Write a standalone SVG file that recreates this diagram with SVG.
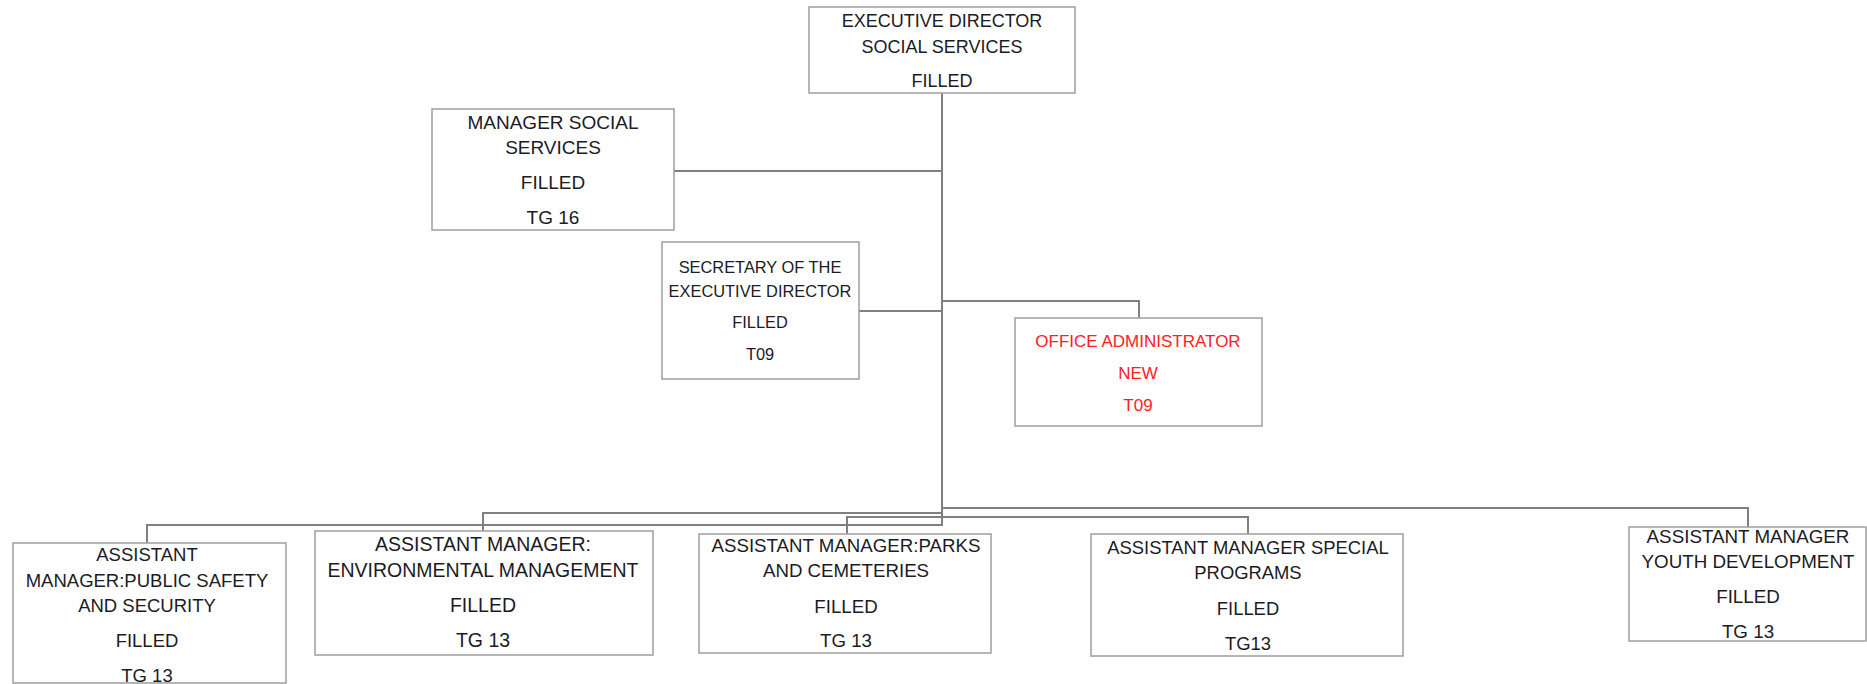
<svg xmlns="http://www.w3.org/2000/svg" width="1867" height="684" viewBox="0 0 1867 684">
  <style>
    .box { fill: #ffffff; stroke: #a3a3a3; stroke-width: 1.6; }
    .link { fill: none; stroke: #808080; stroke-width: 2; }
    text { font-family: "Liberation Sans", Arial, sans-serif; fill: #1b1b24; text-anchor: middle; }
    .new text { fill: #ff2020; }
  </style>
  <rect width="1867" height="684" fill="#ffffff"/>

  <!-- connectors -->
  <g id="connectors">
    <path class="link" d="M942 93 V526"/>
    <path class="link" d="M674 171 H942"/>
    <path class="link" d="M859 311 H942"/>
    <path class="link" d="M942 301 H1139 V318"/>
    <path class="link" d="M942 508 H1748 V527"/>
    <path class="link" d="M942 513 H483 V531"/>
    <path class="link" d="M847 534 V517 H1248 V534"/>
    <path class="link" d="M942 525 H147 V543"/>
  </g>

  <g id="executive-director" font-size="18">
    <rect class="box" x="809" y="7" width="266" height="86"/>
    <text x="942" y="27">EXECUTIVE DIRECTOR</text>
    <text x="942" y="53">SOCIAL SERVICES</text>
    <text x="942" y="87">FILLED</text>
  </g>

  <g id="manager-social-services" font-size="19">
    <rect class="box" x="432" y="109" width="242" height="121"/>
    <text x="553" y="129">MANAGER SOCIAL</text>
    <text x="553" y="154">SERVICES</text>
    <text x="553" y="189">FILLED</text>
    <text x="553" y="224">TG 16</text>
  </g>

  <g id="secretary" font-size="16.4">
    <rect class="box" x="662" y="242" width="197" height="137"/>
    <text x="760" y="273">SECRETARY OF THE</text>
    <text x="760" y="297">EXECUTIVE DIRECTOR</text>
    <text x="760" y="328">FILLED</text>
    <text x="760" y="360">T09</text>
  </g>

  <g id="office-administrator" class="new" font-size="17">
    <rect class="box" x="1015" y="318" width="247" height="108"/>
    <text x="1138" y="347">OFFICE ADMINISTRATOR</text>
    <text x="1138" y="379">NEW</text>
    <text x="1138" y="411">T09</text>
  </g>

  <g id="am-public-safety" font-size="18.5">
    <rect class="box" x="13" y="543" width="273" height="140"/>
    <text x="147" y="561">ASSISTANT</text>
    <text x="147" y="587">MANAGER:PUBLIC SAFETY</text>
    <text x="147" y="612">AND SECURITY</text>
    <text x="147" y="647">FILLED</text>
    <text x="147" y="682">TG 13</text>
  </g>

  <g id="am-environmental" font-size="19.5">
    <rect class="box" x="315" y="531" width="338" height="124"/>
    <text x="483" y="551">ASSISTANT MANAGER:</text>
    <text x="483" y="577">ENVIRONMENTAL MANAGEMENT</text>
    <text x="483" y="612">FILLED</text>
    <text x="483" y="647">TG 13</text>
  </g>

  <g id="am-parks" font-size="18.7">
    <rect class="box" x="699" y="534" width="292" height="119"/>
    <text x="846" y="552">ASSISTANT MANAGER:PARKS</text>
    <text x="846" y="577">AND CEMETERIES</text>
    <text x="846" y="613">FILLED</text>
    <text x="846" y="647">TG 13</text>
  </g>

  <g id="am-special-programs" font-size="18.4">
    <rect class="box" x="1091" y="534" width="312" height="122"/>
    <text x="1248" y="554">ASSISTANT MANAGER SPECIAL</text>
    <text x="1248" y="579">PROGRAMS</text>
    <text x="1248" y="615">FILLED</text>
    <text x="1248" y="650">TG13</text>
  </g>

  <g id="am-youth" font-size="18.8">
    <rect class="box" x="1629" y="527" width="237" height="114"/>
    <text x="1748" y="543">ASSISTANT MANAGER</text>
    <text x="1748" y="568">YOUTH DEVELOPMENT</text>
    <text x="1748" y="603">FILLED</text>
    <text x="1748" y="638">TG 13</text>
  </g>
</svg>
